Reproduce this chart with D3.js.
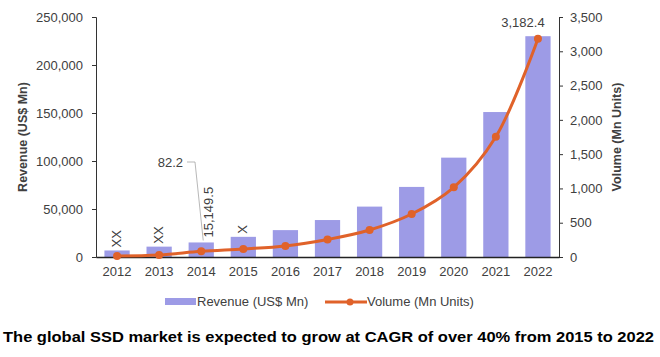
<!DOCTYPE html>
<html><head><meta charset="utf-8">
<script src="https://cdn.jsdelivr.net/npm/d3@7"></script>
<style>
body{margin:0;background:#fff;}
svg{display:block;}
text{font-family:"Liberation Sans",Arial,sans-serif;}
</style></head><body>
<svg id="c" width="660" height="357"></svg>
<script>
const years = ["2012","2013","2014","2015","2016","2017","2018","2019","2020","2021","2022"];
const revenue = [6800, 10800, 15149.5, 21000, 28000, 38500, 52500, 73000, 103500, 151000, 230000];
const volume = [15, 30, 82.2, 117, 160, 255, 394, 627, 1016, 1754, 3182.4];
const revTicks = [0, 50000, 100000, 150000, 200000, 250000];
const volTicks = [0, 500, 1000, 1500, 2000, 2500, 3000, 3500];
const seriesNames = ["Revenue (US$ Mn)", "Volume (Mn Units)"];
const caption = "The global SSD market is expected to grow at CAGR of over 40% from 2015 to 2022";

const svg = d3.select("#c");
const L = 96, R = 559, T = 17, B = 257;
const barColor = "#9d9be6", lineColor = "#e0622a", axisColor = "#333", txt = "#404040";
const fs = 13;

const x = d3.scaleBand().domain(years).range([L, R]).paddingInner(0.4).paddingOuter(0.2);
const yL = d3.scaleLinear().domain([0, 250000]).range([B, T]);
const yR = d3.scaleLinear().domain([0, 3500]).range([B, T]);
const fmt = d3.format(",");

// bars
svg.append("g").selectAll("rect").data(years).join("rect")
  .attr("x", d => x(d)).attr("width", x.bandwidth())
  .attr("y", (d, i) => yL(revenue[i])).attr("height", (d, i) => B - yL(revenue[i]))
  .attr("fill", barColor);

// left axis
const gl = svg.append("g").attr("transform", `translate(${L},0)`)
  .call(d3.axisLeft(yL).tickValues(revTicks).tickFormat(fmt).tickSize(4).tickPadding(9));
gl.selectAll("text").attr("font-size", fs).attr("fill", txt).attr("font-family", "Liberation Sans, Arial, sans-serif");
gl.selectAll("line, path").attr("stroke", axisColor);

// right axis
const gr = svg.append("g").attr("transform", `translate(${R},0)`)
  .call(d3.axisRight(yR).tickValues(volTicks).tickFormat(fmt).tickSize(4).tickPadding(7));
gr.selectAll("text").attr("font-size", fs).attr("fill", txt).attr("font-family", "Liberation Sans, Arial, sans-serif");
gr.selectAll("line, path").attr("stroke", axisColor);

// bottom axis
const gb = svg.append("g").attr("transform", `translate(0,${B})`)
  .call(d3.axisBottom(x).tickSize(0).tickPadding(10));
gb.select("path").attr("stroke", "#222").attr("stroke-width", 1.5);
gb.selectAll("text").attr("font-size", fs).attr("fill", txt).attr("font-family", "Liberation Sans, Arial, sans-serif");

// line
const cx = i => x(years[i]) + x.bandwidth() / 2;
const line = d3.line().x((d, i) => cx(i)).y(d => yR(d)).curve(d3.curveCatmullRom.alpha(0.5));
svg.append("path").datum(volume).attr("d", line)
  .attr("fill", "none").attr("stroke", lineColor).attr("stroke-width", 3);
svg.append("g").selectAll("circle").data(volume).join("circle")
  .attr("cx", (d, i) => cx(i)).attr("cy", d => yR(d)).attr("r", 4).attr("fill", lineColor);

// XX labels
[[0, "XX"], [1, "XX"], [3, "X"]].forEach(([i, t]) => {
  const px = cx(i), py = yL(revenue[i]) - 3;
  svg.append("text").attr("transform", `translate(${px + 4},${py}) rotate(-90)`)
    .attr("font-size", fs).attr("fill", txt).text(t);
});

// annotations
const i14 = 2;
svg.append("text").attr("x", 183).attr("y", 167).attr("text-anchor", "end")
  .attr("font-size", fs).attr("fill", txt).text(fmt(volume[i14]));
svg.append("path").attr("d", `M187,162 L195,162 L${cx(i14) + 2},${yL(revenue[i14]) - 2}`)
  .attr("fill", "none").attr("stroke", "#999").attr("stroke-width", 0.7);
svg.append("text").attr("transform", `translate(${cx(i14) + 12},${yL(revenue[i14]) - 5}) rotate(-90)`)
  .attr("font-size", fs).attr("fill", txt).text(d3.format(",.1f")(revenue[i14]));
svg.append("text").attr("x", cx(10) - 15).attr("y", 27).attr("text-anchor", "middle")
  .attr("font-size", fs).attr("fill", txt).text(d3.format(",.1f")(volume[10]));

// axis titles
svg.append("text").attr("transform", `translate(27,${(T + B) / 2}) rotate(-90)`)
  .attr("text-anchor", "middle").attr("font-size", 12.5).attr("font-weight", "bold").attr("fill", txt).text(seriesNames[0]);
svg.append("text").attr("transform", `translate(621,${(T + B) / 2}) rotate(-90)`)
  .attr("text-anchor", "middle").attr("font-size", 12.5).attr("font-weight", "bold").attr("fill", txt).text(seriesNames[1]);

// legend
svg.append("rect").attr("x", 165).attr("y", 298).attr("width", 31).attr("height", 7).attr("fill", barColor);
svg.append("text").attr("x", 197).attr("y", 306).attr("font-size", fs).attr("fill", txt).text(seriesNames[0]);
svg.append("line").attr("x1", 325).attr("x2", 367).attr("y1", 302).attr("y2", 302)
  .attr("stroke", lineColor).attr("stroke-width", 3);
svg.append("circle").attr("cx", 350).attr("cy", 302).attr("r", 3.5).attr("fill", lineColor);
svg.append("text").attr("x", 367).attr("y", 306).attr("font-size", fs).attr("fill", txt).text(seriesNames[1]);

// caption
svg.append("text").attr("x", 3).attr("y", 342).attr("font-size", 15.5)
  .attr("font-family", "Liberation Sans, Arial, sans-serif").attr("font-weight", "bold")
  .attr("textLength", 651).attr("lengthAdjust", "spacingAndGlyphs").attr("fill", "#000").text(caption);
</script>
</body></html>
